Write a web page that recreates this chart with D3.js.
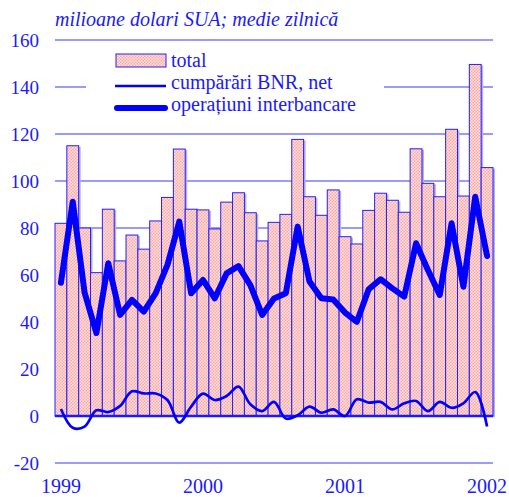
<!DOCTYPE html>
<html>
<head>
<meta charset="utf-8">
<script src="https://cdn.jsdelivr.net/npm/d3@7"></script>
<style>
  body { margin: 0; background: #fff; }
  svg { display: block; }
  text { font-family: "Liberation Serif", "Times New Roman", serif; fill: #1a1aff; }
</style>
</head>
<body>
<svg id="chart" width="509" height="497"></svg>
<script>
// monthly data, Jan 1999 .. Jan 2002
const months = d3.range(37);
const yearLabels = ['1999', '2000', '2001', '2002'];

const total = [
  82, 115, 80, 61, 88, 66, 77, 71, 83, 93, 113.6, 88,
  87.7, 79.6, 91, 95, 86.5, 74.5, 82.4, 85.8, 117.7, 93.3, 85.4, 96.2,
  76.3, 73.2, 87.5, 94.8, 91.8, 86.7, 113.7, 99, 93.3, 122, 93.6, 149.6,
  105.7
];
const netPurchases = [
  3, -5, -4.5, 2.4, 1.7, 4.3, 10.5, 9.6, 9.6, 6.8, -2.8, 4,
  9.5, 6.8, 8.5, 12.5, 5, 2.1, 6, -1.1, 0.3, 4, 1.4, 2.8,
  0, 7.1, 5.7, 6, 2.8, 5.4, 6.4, 2.1, 6, 3.5, 5.4, 10.2,
  -4.5
];
const interbank = [
  56.7, 91.2, 52.5, 35.3, 65, 43, 49.4, 44.4, 52.2, 64.3, 82.7, 52.2,
  57.9, 50.1, 60.7, 63.8, 55.7, 43, 50, 52.2, 80.6, 57.2, 50.1, 49.6,
  44, 40.1, 53.9, 58.2, 54.3, 50.8, 73.5, 62.1, 51.5, 82, 55, 93.3,
  68.1
];
const yTicks = [-20, 0, 20, 40, 60, 80, 100, 120, 140, 160];

const svg = d3.select('#chart');
const blue = '#1a1aff';
const gridBlue = '#7a7aff';

const x = d3.scaleBand().domain(months).range([55, 493]).padding(0);
const y = d3.scaleLinear().domain([-20, 160]).range([463, 40]);

// pink checker fill for the bars
const defs = svg.append('defs');
const pat = defs.append('pattern')
  .attr('id', 'pinkCheck')
  .attr('patternUnits', 'userSpaceOnUse')
  .attr('width', 3).attr('height', 3);
pat.append('rect').attr('width', 3).attr('height', 3).attr('fill', '#ffa8a8');
pat.append('rect').attr('width', 1.5).attr('height', 1.5).attr('fill', '#ffe4e4');
pat.append('rect').attr('x', 1.5).attr('y', 1.5).attr('width', 1.5).attr('height', 1.5).attr('fill', '#ffe4e4');

// horizontal grid
svg.append('g')
  .selectAll('line')
  .data(yTicks.filter(d => d !== 0))
  .join('line')
  .attr('x1', 55).attr('x2', 493)
  .attr('y1', d => y(d)).attr('y2', d => y(d))
  .attr('stroke', gridBlue)
  .attr('stroke-width', 1.5);

// y tick labels
svg.append('g')
  .selectAll('text')
  .data(yTicks)
  .join('text')
  .attr('x', 39)
  .attr('y', d => y(d) + 7)
  .attr('text-anchor', 'end')
  .attr('font-size', 19)
  .text(d => d);

// bars (with faint shadow on the right)
svg.append('g')
  .selectAll('rect')
  .data(months)
  .join('rect')
  .attr('x', d => x(d) + 2)
  .attr('y', d => y(total[d]) + 1)
  .attr('width', x.bandwidth())
  .attr('height', d => y(0) - y(total[d]))
  .attr('fill', '#b0b0ff');

svg.append('g')
  .selectAll('rect')
  .data(months)
  .join('rect')
  .attr('x', d => x(d))
  .attr('y', d => y(total[d]))
  .attr('width', x.bandwidth())
  .attr('height', d => y(0) - y(total[d]))
  .attr('fill', 'url(#pinkCheck)')
  .attr('stroke', '#2020ff')
  .attr('stroke-width', 1);

// zero line
svg.append('line')
  .attr('x1', 55).attr('x2', 493)
  .attr('y1', y(0)).attr('y2', y(0))
  .attr('stroke', blue)
  .attr('stroke-width', 2.5);

const cx = d => x(d) + x.bandwidth() / 2;

// net purchases, smooth thin line
svg.append('path')
  .datum(months)
  .attr('fill', 'none')
  .attr('stroke', '#0000ff')
  .attr('stroke-width', 2.7)
  .attr('d', d3.line().x(cx).y(d => y(netPurchases[d])).curve(d3.curveCatmullRom.alpha(0.5)));

// interbank, thick line
svg.append('path')
  .datum(months)
  .attr('fill', 'none')
  .attr('stroke', '#0000ff')
  .attr('stroke-width', 6)
  .attr('stroke-linejoin', 'round')
  .attr('stroke-linecap', 'round')
  .attr('d', d3.line().x(cx).y(d => y(interbank[d])));

// x labels at January bars
svg.append('g')
  .selectAll('text')
  .data(yearLabels)
  .join('text')
  .attr('x', (d, i) => cx(i * 12))
  .attr('y', 493)
  .attr('text-anchor', 'middle')
  .attr('font-size', 20)
  .text(d => d);

// title
svg.append('text')
  .attr('x', 55)
  .attr('y', 26)
  .attr('font-size', 20)
  .attr('font-style', 'italic')
  .text('milioane dolari SUA; medie zilnică');

// legend
const legend = svg.append('g');
legend.append('rect')
  .attr('x', 86).attr('y', 46).attr('width', 298).attr('height', 74)
  .attr('fill', '#fff');
legend.append('rect')
  .attr('x', 116).attr('y', 54).attr('width', 50).attr('height', 13)
  .attr('fill', 'url(#pinkCheck)')
  .attr('stroke', '#2020ff');
legend.append('line')
  .attr('x1', 115).attr('x2', 166).attr('y1', 86).attr('y2', 86)
  .attr('stroke', '#0000ff').attr('stroke-width', 2.7);
legend.append('line')
  .attr('x1', 117).attr('x2', 165).attr('y1', 108).attr('y2', 108)
  .attr('stroke', '#0000ff').attr('stroke-width', 6)
  .attr('stroke-linecap', 'round');
const legendText = ['total', 'cumpărări BNR, net', 'operațiuni interbancare'];
legend.selectAll('text')
  .data(legendText)
  .join('text')
  .attr('x', 171)
  .attr('y', (d, i) => 67 + i * 22)
  .attr('font-size', 20)
  .text(d => d);
</script>
</body>
</html>
